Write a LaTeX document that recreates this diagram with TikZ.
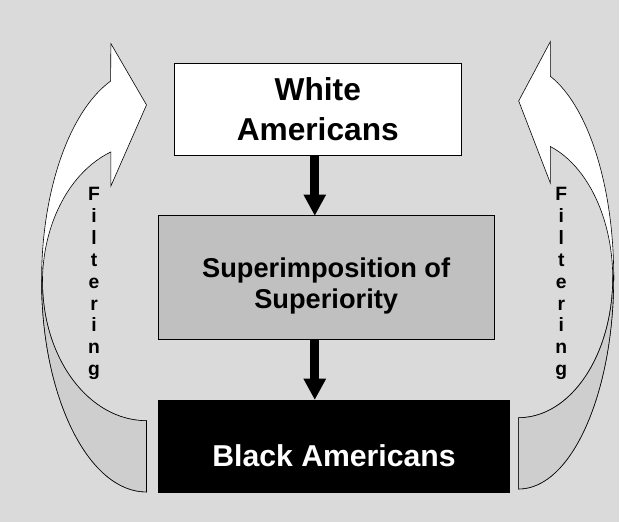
\documentclass[tikz,border=0pt]{standalone}
\usepackage{fontspec}
\setmainfont{Liberation Sans}
\usetikzlibrary{arrows.meta}
\definecolor{bggray}{RGB}{218,218,218}
\definecolor{boxgray}{RGB}{192,192,192}
\definecolor{backgray}{RGB}{206,206,206}

\begin{document}
\begin{tikzpicture}[x=1pt, y=1pt,
	box/.style = {draw, line width=0.8pt, inner sep=0pt, align=center},
	flow/.style = {line width=9pt, -{Triangle[width=23pt, length=21pt, line width=0pt]}},
	band/.style = {draw, line width=0.6pt},
	letter/.style = {anchor=base, inner sep=0pt, font=\fontsize{19.5}{20}\selectfont\bfseries}]
	
	\def \lx {95}
	\def \rx {567}
	\def \fy {324.3} % baseline of the first letter
	\def \gap {22.1}
	
	\fill[bggray] (0,0) rectangle (625,527);
	
	% left band
	\draw[band, fill=white] (148,30) arc[start angle=270, end angle=110, x radius=106, y radius=214]
		-- (112,483) -- (148,421) -- (112,339) -- (112,373.5)
		arc[start angle=110, end angle=270, x radius=105, y radius=140] -- cycle;
	\draw[band, fill=backgray] (148,30) arc[start angle=270, end angle=180, x radius=106, y radius=214]
		-- (43,242) arc[start angle=180, end angle=270, x radius=105, y radius=140] -- cycle;
	
	% right band
	\draw[band, fill=white] (524,33) arc[start angle=-90, end angle=70.5, x radius=96, y radius=214.6]
		-- (556,485) -- (524,425) -- (556,342) -- (556,379)
		arc[start angle=70.3, end angle=-90, x radius=95, y radius=141.1] -- cycle;
	\draw[band, fill=backgray] (524,33) arc[start angle=-90, end angle=0, x radius=96, y radius=214.6]
		-- (619,246.1) arc[start angle=0, end angle=-90, x radius=95, y radius=141.1] -- cycle;
	
	\node[box, fill=white, minimum width=290pt, minimum height=93pt,
		font=\fontsize{32}{40}\selectfont\bfseries] (whiteam) at (321,416.5) {White\\Americans};
	\node[box, fill=boxgray, minimum width=339pt, minimum height=125pt,
		font=\fontsize{27.5}{31}\selectfont\bfseries] (superior) at (329.5,246.5) {\rule{0pt}{37.2pt}Superimposition of\\Superiority};
	\node[box, fill=black, text=white, minimum width=355pt, minimum height=93pt,
		text height=42.4pt, text depth=0pt,
		font=\fontsize{30.5}{36}\selectfont\bfseries] (blackam) at (337.5,76.5) {Black Americans};
	
	\coordinate (axis) at (318,0);
	\draw[flow] (whiteam.south -| axis) -- (superior.north -| axis);
	\draw[flow] (superior.south -| axis) -- (blackam.north -| axis);
	
	\foreach \c [count=\i] in {F,i,l,t,e,r,i,n,g}
	{
		\node[letter] (lf\i) at (\lx, {\fy-\gap*(\i-1)}) {\c};
		\node[letter] (rf\i) at (\rx, {\fy-\gap*(\i-1)}) {\c};
	}
\end{tikzpicture}
\end{document}
